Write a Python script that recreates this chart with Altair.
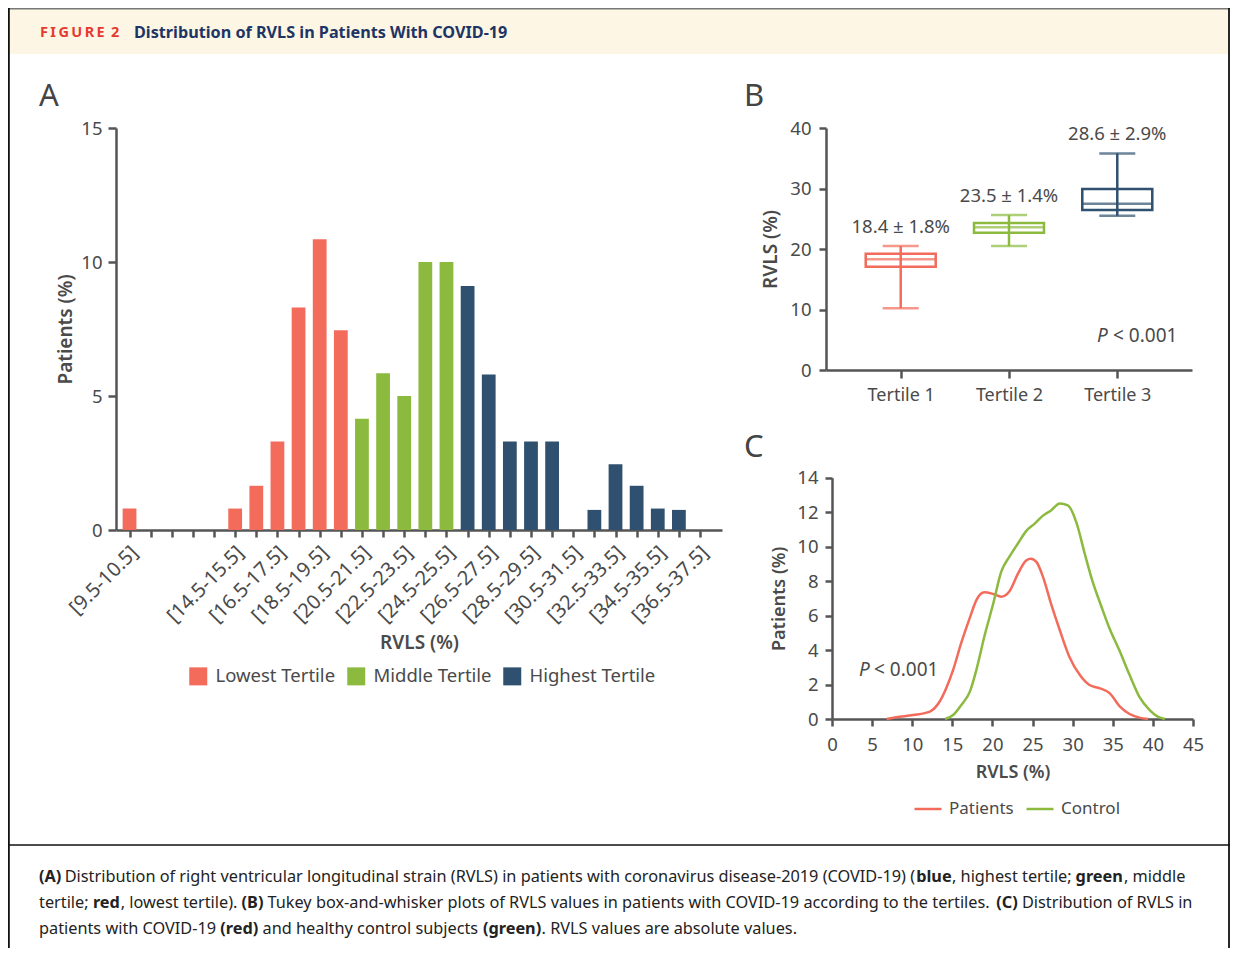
import json
import altair as alt
import pandas as pd

FONT = "Noto Sans"
TEXT = "#4a4a4a"
AXC = "#555555"
RED = "#f26b5b"
GREEN = "#8bba3f"
NAVY = "#2f506e"
W, H = 1222, 940

# ---------------- Panel A data ----------------
bins_a = list(range(10, 38))
pct_a = [0.8, 0, 0, 0, 0, 0.8, 1.65, 3.3, 8.3, 10.85, 7.45, 4.15, 5.85, 5.0,
         10.0, 10.0, 9.1, 5.8, 3.3, 3.3, 3.3, 0, 0.75, 2.45, 1.65, 0.8, 0.75, 0]
tertile_a = ["Lowest Tertile"] * 11 + ["Middle Tertile"] * 5 + ["Highest Tertile"] * 12
tertile_names = ["Lowest Tertile", "Middle Tertile", "Highest Tertile"]
tick_labels_a = ["[9.5-10.5]", "", "", "", "", "[14.5-15.5]", "", "[16.5-17.5]", "",
                 "[18.5-19.5]", "", "[20.5-21.5]", "", "[22.5-23.5]", "", "[24.5-25.5]", "",
                 "[26.5-27.5]", "", "[28.5-29.5]", "", "[30.5-31.5]", "", "[32.5-33.5]", "",
                 "[34.5-35.5]", "", "[36.5-37.5]"]

# ---------------- Panel B data ----------------
tertiles = ["Tertile 1", "Tertile 2", "Tertile 3"]
b_low = [10.2, 20.5, 25.5]
b_q1 = [17.05, 22.7, 26.45]
b_med = [18.3, 23.6, 27.5]
b_q3 = [19.2, 24.3, 29.9]
b_high = [20.5, 25.6, 35.8]
b_labels = ["18.4 ± 1.8%", "23.5 ± 1.4%", "28.6 ± 2.9%"]

# ---------------- Panel C data ----------------
c_pat_x = [6.8, 8.0, 10.1, 12.2, 13.4, 14.25, 15.1, 16.1, 17.2, 18.0, 19.0, 20.1, 21.1, 22.1,
           23.2, 24.2, 24.8, 25.5, 26.3, 27.3, 28.4, 29.6, 30.9, 32.1, 33.4, 34.6, 35.9,
           37.1, 38.3, 39.4]
c_pat_y = [0.0, 0.1, 0.23, 0.43, 1.0, 1.8, 2.85, 4.4, 5.9, 6.9, 7.35, 7.25, 7.1, 7.4,
           8.45, 9.2, 9.3, 9.1, 8.25, 6.7, 5.15, 3.6, 2.55, 1.97, 1.78, 1.5, 0.72,
           0.29, 0.08, 0.0]
c_con_x = [14.1, 15.1, 16.1, 17.2, 18.0, 19.0, 20.1, 21.1, 22.1, 23.2, 24.2, 25.3, 26.3,
           27.3, 28.4, 29.4, 30.5, 31.5, 32.5, 33.6, 34.6, 35.9, 37.1, 38.3, 39.6, 40.6, 41.5]
c_con_y = [0.0, 0.23, 0.8, 1.6, 2.85, 4.8, 6.7, 8.55, 9.4, 10.2, 10.9, 11.35, 11.8,
           12.1, 12.5, 12.4, 11.35, 9.6, 7.95, 6.5, 5.25, 3.9, 2.55, 1.3, 0.52, 0.14, 0.0]
groups_c = ["Patients", "Control"]

# ---------------- Texts ----------------
header_tag = "F\u2009I\u2009G\u2009U\u2009R\u2009E\u2009 2"
header_title = "Distribution of RVLS in Patients With COVID-19"
panel_letters = ["A", "B", "C"]
p_value = ["P", "< 0.001"]
caption_lines = [
    [("(A)", True), (" Distribution of right ventricular longitudinal strain (RVLS) in patients with coronavirus disease-2019 (COVID-19) (", False),
     ("blue", True), (", highest tertile; ", False), ("green", True), (", middle", False)],
    [("tertile; ", False), ("red", True), (", lowest tertile). ", False), ("(B)", True),
     (" Tukey box-and-whisker plots of RVLS values in patients with COVID-19 according to the tertiles. ", False),
     ("(C)", True), (" Distribution of RVLS in", False)],
    [("patients with COVID-19 ", False), ("(red)", True), (" and healthy control subjects ", False),
     ("(green)", True), (". RVLS values are absolute values.", False)],
]

# approximate advance widths (em) for Noto Sans regular, to chain caption segments
CW = {" ": 0.26, "(": 0.296, ")": 0.296, "-": 0.322, ".": 0.268, ",": 0.244, ";": 0.268,
      "%": 0.833, "a": 0.561, "b": 0.615, "c": 0.48, "d": 0.615, "e": 0.564, "f": 0.344,
      "g": 0.615, "h": 0.618, "i": 0.258, "j": 0.258, "k": 0.534, "l": 0.258, "m": 0.935,
      "n": 0.618, "o": 0.605, "p": 0.615, "q": 0.615, "r": 0.413, "s": 0.479, "t": 0.361,
      "u": 0.618, "v": 0.508, "w": 0.786, "x": 0.529, "y": 0.51, "z": 0.47,
      "A": 0.639, "B": 0.65, "C": 0.632, "D": 0.729, "I": 0.279, "L": 0.522, "O": 0.779,
      "R": 0.618, "S": 0.549, "T": 0.553, "V": 0.613, "W": 0.9}


def text_w(s, size, bold):
    w = 0.0
    for ch in s:
        w += CW.get(ch, 0.572)
    return w * size * (1.07 if bold else 1.0)


ONE = pd.DataFrame({"k": [0]})


def label(s, x, y, size, weight="normal", color=TEXT, align="left", italic=False):
    return alt.Chart(ONE).mark_text(
        text=s, fontSize=size, fontWeight=weight, color=color, align=align,
        baseline="middle", fontStyle="italic" if italic else "normal", font=FONT
    ).encode(x=alt.value(x), y=alt.value(y))


def hline(x, x2, y, color, w):
    return alt.Chart(ONE).mark_rule(color=color, strokeWidth=w).encode(
        x=alt.value(x), x2=alt.value(x2), y=alt.value(y))


def vline(x, y, y2, color, w):
    return alt.Chart(ONE).mark_rule(color=color, strokeWidth=w).encode(
        x=alt.value(x), y=alt.value(y), y2=alt.value(y2))


layers = []
# frame & header band
layers.append(alt.Chart(ONE).mark_rect(color="#fdf6e4").encode(
    x=alt.value(1), x2=alt.value(1220), y=alt.value(1), y2=alt.value(46)))
layers.append(hline(0, W, 0.75, "#777777", 1.5))
layers.append(vline(0.9, 0, H, "#111111", 1.8))
layers.append(vline(1221, 0, H, "#111111", 1.8))
layers.append(hline(0, W, 837, "#111111", 1.5))
layers.append(label(header_tag, 32, 25, 14.5, "bold", "#e63a30"))
layers.append(label(header_title, 126, 25, 16.2, "bold", "#1d3565"))

# panel letters
layers.append(label(panel_letters[0], 31, 89, 31, color="#444444"))
layers.append(label(panel_letters[1], 736, 89, 31, color="#444444"))
layers.append(label(panel_letters[2], 736, 440, 31, color="#444444"))

# caption
cap_size = 16.3
for li, segs in enumerate(caption_lines):
    x = 31.0
    y = 869 + 26 * li
    for s, bold in segs:
        stripped = s.lstrip(" ")
        x += text_w(s[: len(s) - len(stripped)], cap_size, bold)
        body = stripped.rstrip(" ")
        if body:
            layers.append(label(body, round(x, 1), y, cap_size,
                                "bold" if bold else "normal", "#222222"))
        x += text_w(stripped, cap_size, bold)

# ---------------- Panel A ----------------
df_a = pd.DataFrame({"bin": bins_a, "pct": pct_a, "tertile": tertile_a})
xa = alt.Scale(domain=[9.36, 38.04], range=[108, 714], nice=False, zero=False)
ya = alt.Scale(domain=[0, 15], range=[522, 120], nice=False)
label_expr_a = json.dumps(tick_labels_a) + "[round(datum.value) - %d]" % bins_a[0]
panel_a = alt.Chart(df_a).transform_calculate(
    lo="datum.bin - 0.326", hi="datum.bin + 0.326"
).mark_bar().encode(
    x=alt.X("lo:Q", scale=xa, axis=alt.Axis(
        orient="bottom", offset=522 - H, values=bins_a, labelExpr=label_expr_a,
        labelAngle=315, labelAlign="right", labelBaseline="middle", labelFontSize=20,
        labelPadding=12, labelOffset=5, labelOverlap=False, labelBound=False, labelFlush=False,
        tickSize=7, title="RVLS (%)", titleY=112,
        titleBaseline="middle", titleFontSize=19, titleFontWeight=600)),
    x2="hi:Q",
    y=alt.Y("pct:Q", scale=ya, axis=alt.Axis(
        orient="left", offset=-108, values=[0, 5, 10, 15], tickSize=8, labelPadding=6,
        labelFontSize=18.5, labelFlush=False, title="Patients (%)", titleX=-51,
        titleBaseline="middle", titleFontSize=19, titleFontWeight=600)),
    y2=alt.datum(0),
    color=alt.Color("tertile:N", scale=alt.Scale(domain=tertile_names, range=[RED, GREEN, NAVY]),
                    legend=alt.Legend(orient="none", legendX=181, legendY=659, direction="horizontal",
                                      title=None, symbolType="square", symbolSize=324,
                                      symbolStrokeWidth=0, labelFontSize=18.5, labelColor=TEXT,
                                      labelFont=FONT, columnPadding=11, labelOffset=8, padding=0)),
)

# ---------------- Panel B ----------------
df_b = pd.DataFrame({"tertile": tertiles, "low": b_low, "q1": b_q1, "med": b_med,
                     "q3": b_q3, "high": b_high, "label": b_labels})
xb = alt.Scale(type="point", domain=tertiles, range=[818, 1184], padding=0.69)
yb = alt.Scale(domain=[0, 40], range=[362, 120], nice=False, zero=False)
cb = alt.Scale(domain=tertiles, range=[RED, GREEN, NAVY])
axb_x = alt.Axis(orient="bottom", offset=362 - H, tickSize=8, labelPadding=8, labelFontSize=18,
                 labelAngle=0, title=None)
axb_y = alt.Axis(orient="left", offset=-818, values=[0, 10, 20, 30, 40], tickSize=7,
                 labelPadding=8, labelFontSize=18.5, labelFlush=False, title="RVLS (%)",
                 titleX=-56, titleBaseline="middle", titleFontSize=19, titleFontWeight=600)
base_b = alt.Chart(df_b)
xenc_b = alt.X("tertile:N", scale=xb, axis=axb_x)
cenc_b = alt.Color("tertile:N", scale=cb, legend=None)
whisk = base_b.mark_rule(strokeWidth=2.5).encode(
    x=xenc_b, y=alt.Y("low:Q", scale=yb, axis=axb_y), y2="high:Q", color=cenc_b)
boxes = base_b.mark_bar(filled=False, width=70, strokeWidth=2.5).encode(
    x=xenc_b, y=alt.Y("q1:Q", scale=yb, axis=axb_y), y2="q3:Q", color=cenc_b)
medians = base_b.mark_tick(size=70, thickness=2.5).encode(
    x=xenc_b, y=alt.Y("med:Q", scale=yb, axis=axb_y), color=cenc_b)
cap_lo = base_b.mark_tick(size=36, thickness=2.5).encode(
    x=xenc_b, y=alt.Y("low:Q", scale=yb, axis=axb_y), color=cenc_b)
cap_hi = base_b.mark_tick(size=36, thickness=2.5).encode(
    x=xenc_b, y=alt.Y("high:Q", scale=yb, axis=axb_y), color=cenc_b)
lab_b = base_b.mark_text(dy=-19, fontSize=18.5, color=TEXT, font=FONT).encode(
    x=xenc_b, y=alt.Y("high:Q", scale=yb, axis=axb_y), text="label:N")
panel_b = alt.layer(whisk, boxes, medians, cap_lo, cap_hi, lab_b)

# ---------------- Panel C ----------------
df_c = pd.DataFrame({
    "rvls": c_pat_x + c_con_x,
    "pct": c_pat_y + c_con_y,
    "group": [groups_c[0]] * len(c_pat_x) + [groups_c[1]] * len(c_con_x),
})
xc = alt.Scale(domain=[0, 45], range=[824, 1185], nice=False, zero=False)
yc = alt.Scale(domain=[0, 14], range=[711, 469.7], nice=False, zero=False)
panel_c = alt.Chart(df_c).mark_line(strokeWidth=2.5, interpolate="monotone").encode(
    x=alt.X("rvls:Q", scale=xc, axis=alt.Axis(
        orient="bottom", offset=711 - H, values=list(range(0, 50, 5)), tickSize=7,
        labelPadding=9, labelFontSize=18.5, labelFlush=False, title="RVLS (%)", titleY=53,
        titleBaseline="middle", titleFontSize=18, titleFontWeight=600)),
    y=alt.Y("pct:Q", scale=yc, axis=alt.Axis(
        orient="left", offset=-824, values=list(range(0, 16, 2)), tickSize=7,
        labelPadding=7, labelFontSize=18.5, labelFlush=False, title="Patients (%)", titleX=-53,
        titleBaseline="middle", titleFontSize=18, titleFontWeight=600)),
    color=alt.Color("group:N", scale=alt.Scale(domain=groups_c, range=[RED, GREEN]),
                    legend=alt.Legend(orient="none", legendX=905, legendY=786, direction="horizontal",
                                      title=None, symbolType="stroke", symbolSize=729,
                                      symbolStrokeWidth=2.5, labelFontSize=17, labelColor=TEXT,
                                      labelFont=FONT, columnPadding=7, labelOffset=6, padding=0)),
    order="rvls:Q",
)

# p-values
layers_p = [
    label(p_value[0], 1089, 328, 19, italic=True),
    label(p_value[1], 1105, 328, 19),
    label(p_value[0], 851, 662, 19, italic=True),
    label(p_value[1], 866, 662, 19),
]

chart = alt.layer(*layers, panel_a, panel_b, panel_c, *layers_p).resolve_scale(
    x="independent", y="independent", color="independent"
).properties(
    width=W, height=H, padding=0, autosize=alt.AutoSizeParams(type="none")
).configure_view(stroke=None).configure(font=FONT).configure_axis(
    domainColor=AXC, domainWidth=2.5, tickColor=AXC, tickWidth=2.5, labelColor=TEXT,
    titleColor=TEXT, labelFont=FONT, titleFont=FONT, grid=False
)

chart.save("out.html", embed_options={"renderer": "svg", "actions": False})
